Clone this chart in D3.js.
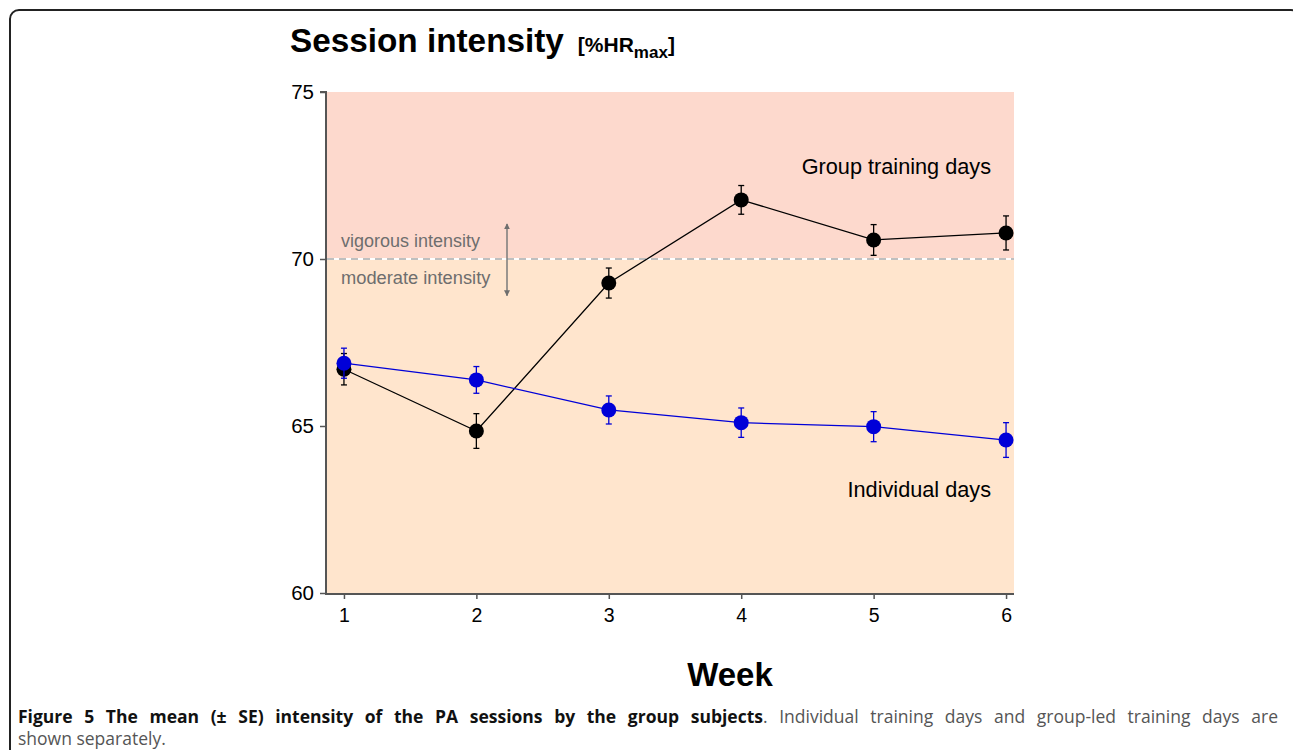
<!DOCTYPE html>
<html><head><meta charset="utf-8">
<script src="https://cdn.jsdelivr.net/npm/d3@7"></script>
<style>body{margin:0;background:#fff;}svg{display:block;}</style>
</head><body>
<svg id="c" width="1293" height="750"></svg>
<script>
const weeks = [1, 2, 3, 4, 5, 6];
const groupMean = [66.7, 64.85, 69.28, 71.77, 70.57, 70.78];
const groupSE = [0.47, 0.52, 0.45, 0.43, 0.46, 0.51];
const indivMean = [66.88, 66.38, 65.48, 65.1, 64.98, 64.58];
const indivSE = [0.45, 0.4, 0.42, 0.44, 0.45, 0.52];
const yTicks = [60, 65, 70, 75];
const threshold = 70;

const svg = d3.select("#c");
const AR = "Arial, 'Liberation Sans', sans-serif";
// frame
svg.append("rect").attr("x", 10).attr("y", 10).attr("width", 1290).attr("height", 780)
  .attr("rx", 9).attr("fill", "none").attr("stroke", "#222").attr("stroke-width", 2);

const x = d3.scaleLinear().domain([0.872, 6.06]).range([327, 1014]);
const y = d3.scaleLinear().domain([60, 75]).range([593, 92]);

// background bands
svg.append("rect").attr("x", x(0.872)).attr("y", y(75)).attr("width", x(6.06) - x(0.872))
  .attr("height", y(threshold) - y(75) - 1).attr("fill", "#FDD9CD");
svg.append("rect").attr("x", x(0.872)).attr("y", y(threshold) + 1).attr("width", x(6.06) - x(0.872))
  .attr("height", y(60) - y(threshold) - 1).attr("fill", "#FFE5CD");
svg.append("line").attr("x1", x(0.872)).attr("x2", x(6.06)).attr("y1", y(threshold)).attr("y2", y(threshold))
  .attr("stroke", "#aaa").attr("stroke-width", 1.5).attr("stroke-dasharray", "7,5");

// axes
const yAxis = svg.append("g").attr("transform", `translate(${x(0.872) - 1},0)`)
  .call(d3.axisLeft(y).tickValues(yTicks).tickSize(6).tickPadding(6).tickFormat(d3.format("d")));
const xAxis = svg.append("g").attr("transform", `translate(0,${y(60) + 1})`)
  .call(d3.axisBottom(x).tickValues(weeks).tickSize(5).tickPadding(9).tickFormat(d3.format("d")));
[yAxis, xAxis].forEach(g => {
  g.select(".domain").attr("stroke", "#555").attr("stroke-width", 2);
  g.selectAll(".tick line").attr("stroke", "#555").attr("stroke-width", 1.5);
  g.selectAll(".tick text").attr("fill", "#000").style("font-family", AR).style("font-size", "20.5px");
});
yAxis.select(".domain").attr("d", `M-6,${y(75)}H0V${y(60) + 2}`);
xAxis.select(".domain").attr("d", `M${x(0.872) - 2},0H${x(6.06)}`);
xAxis.selectAll(".tick text").style("font-size", "19.5px");

// intensity annotations
const ann = svg.append("g").style("font-family", AR).style("font-size", "18px").attr("fill", "#6e6e6e");
ann.append("text").attr("x", 341).attr("y", y(threshold) - 12).text("vigorous intensity");
ann.append("text").attr("x", 341).attr("y", y(threshold) + 25).style("font-size", "18.3px").text("moderate intensity");
svg.append("defs").append("marker").attr("id", "ah").attr("viewBox", "0 0 10 10").attr("refX", 9).attr("refY", 5)
  .attr("markerWidth", 4).attr("markerHeight", 5).attr("orient", "auto-start-reverse")
  .append("path").attr("d", "M0,0L10,5L0,10z").attr("fill", "#6e6e6e");
svg.append("line").attr("x1", 507).attr("x2", 507).attr("y1", y(71.05)).attr("y2", y(68.9))
  .attr("stroke", "#7a7a7a").attr("stroke-width", 1.5)
  .attr("marker-start", "url(#ah)").attr("marker-end", "url(#ah)");

// series
function drawSeries(means, se, color) {
  const data = weeks.map((w, i) => ({ w, m: means[i], s: se[i] }));
  const g = svg.append("g");
  g.append("path").datum(data).attr("fill", "none").attr("stroke", color).attr("stroke-width", 1.3)
    .attr("d", d3.line().x(d => x(d.w)).y(d => y(d.m)));
  const eb = g.selectAll(".eb").data(data).join("g");
  eb.append("line").attr("x1", d => x(d.w)).attr("x2", d => x(d.w))
    .attr("y1", d => y(d.m + d.s)).attr("y2", d => y(d.m - d.s)).attr("stroke", color).attr("stroke-width", 1.3);
  eb.append("line").attr("x1", d => x(d.w) - 3).attr("x2", d => x(d.w) + 3)
    .attr("y1", d => y(d.m + d.s)).attr("y2", d => y(d.m + d.s)).attr("stroke", color).attr("stroke-width", 1.3);
  eb.append("line").attr("x1", d => x(d.w) - 3).attr("x2", d => x(d.w) + 3)
    .attr("y1", d => y(d.m - d.s)).attr("y2", d => y(d.m - d.s)).attr("stroke", color).attr("stroke-width", 1.3);
  g.selectAll("circle").data(data).join("circle").attr("cx", d => x(d.w)).attr("cy", d => y(d.m))
    .attr("r", 7.5).attr("fill", color);
}
drawSeries(groupMean, groupSE, "#000");
drawSeries(indivMean, indivSE, "#0000d8");

// series labels
const lab = svg.append("g").style("font-family", AR).style("font-size", "21.7px").attr("fill", "#000").attr("text-anchor", "end");
lab.append("text").attr("x", 991).attr("y", 174).text("Group training days");
lab.append("text").attr("x", 991).attr("y", 497).text("Individual days");

// title
const t = svg.append("text").attr("x", 290).attr("y", 52).style("font-family", AR).style("font-weight", "bold").attr("fill", "#000");
t.append("tspan").style("font-size", "33.3px").text("Session intensity");
t.append("tspan").style("font-size", "21px").attr("dx", 14).text("[%HR");
t.append("tspan").style("font-size", "17px").attr("dy", 6).text("max");
t.append("tspan").style("font-size", "21px").attr("dy", -6).text("]");

svg.append("text").attr("x", 730).attr("y", 686).attr("text-anchor", "middle")
  .style("font-family", AR).style("font-weight", "bold").style("font-size", "33px").text("Week");

// caption (justified first line)
const capFont = "'Open Sans', sans-serif", capSize = "17.5px";
const capBold = "Figure 5 The mean (\u00b1 SE) intensity of the PA sessions by the group subjects";
const capRest = ". Individual training days and group-led training days are";
const cap = svg.append("text").attr("x", 18).attr("y", 723).style("font-family", capFont).style("font-size", capSize);
cap.append("tspan").style("font-weight", "bold").attr("fill", "#111").text(capBold);
cap.append("tspan").attr("fill", "#555").text(capRest);
const natural = cap.node().getComputedTextLength();
const gaps = (capBold + capRest).split(" ").length - 1;
cap.style("word-spacing", ((1278 - 18 - natural) / gaps) + "px");
svg.append("text").attr("x", 18).attr("y", 745).style("font-family", capFont).style("font-size", capSize)
  .attr("fill", "#555").text("shown separately.");
</script>
</body></html>
